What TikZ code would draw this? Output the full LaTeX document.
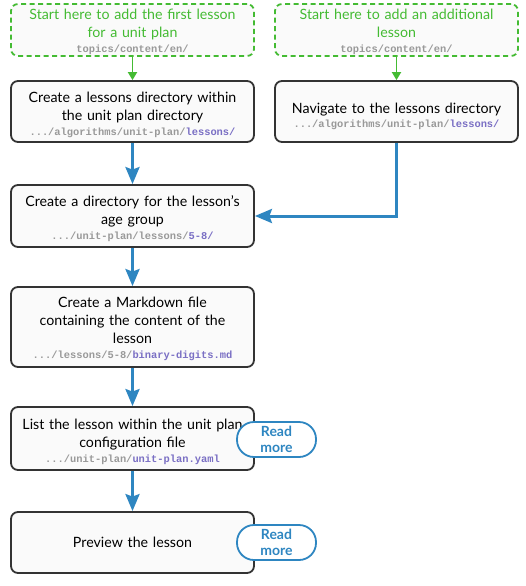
\documentclass[tikz,border=0pt]{standalone}
\usepackage{fontspec}
\setmainfont{Lato}
\setmonofont{Liberation Mono}
\usetikzlibrary{arrows.meta}
\definecolor{stepgreen}{HTML}{44BB33}
\definecolor{stepblue}{HTML}{2E86C1}
\definecolor{pathgray}{HTML}{999999}
\definecolor{pathpurple}{HTML}{7A6FC4}
\definecolor{boxfill}{HTML}{FAFAFA}
\definecolor{boxline}{HTML}{333333}
\newcommand{\pth}[1]{{\ttfamily\bfseries\fontsize{10.4}{12}\selectfont\color{pathgray}#1}}
\newcommand{\hl}[1]{{\color{pathpurple}#1}}
\tikzset{
  stepbox/.style={draw=boxline, line width=1.8pt, fill=boxfill, rounded corners=7pt,
    minimum width=243pt, text width=232pt, align=center, inner sep=0pt,
    font=\fontsize{14.2}{18}\selectfont},
  lower/.style={execute at begin node={\rule{0pt}{#1}}},
  startbox/.style={stepbox, lower=15pt, draw=stepgreen, dash pattern=on 5pt off 3.5pt, text=stepgreen, minimum height=52pt},
  flow/.style={draw=stepblue, line width=3pt, -{Stealth[length=17pt,width=14pt,inset=2.5pt]}},
  startflow/.style={draw=stepgreen, line width=1.8pt, -{Triangle[length=8pt,width=9pt]}},
  pill/.style={draw=stepblue, line width=1.8pt, fill=white, rounded corners=17pt,
    minimum width=79pt, minimum height=35pt, inner sep=0pt, align=center, text=stepblue,
    font=\bfseries\fontsize{14}{16.5}\selectfont}
}
\begin{document}
\begin{tikzpicture}[x=1pt,y=-1pt]
\useasboundingbox (0,0) rectangle (525,586);
\node[startbox] (g1) at (132.5,30) {Start here to add the first lesson\\for a unit plan\\[-3pt]\pth{topics/content/en/}};
\node[startbox] (g2) at (396.5,30) {Start here to add an additional\\lesson\\[-3pt]\pth{topics/content/en/}};
\node[stepbox, lower=16.5pt, minimum height=61pt] (b1) at (132.5,111.5) {Create a lessons directory within\\the unit plan directory\\[-3pt]\pth{.../algorithms/unit-plan/\hl{lessons/}}};
\node[stepbox, lower=20pt, minimum height=61pt] (nav) at (396.5,111.5) {Navigate to the lessons directory\\[-4pt]\pth{.../algorithms/unit-plan/\hl{lessons/}}};
\node[stepbox, lower=16.5pt, minimum height=62pt] (b2) at (132.5,216) {Create a directory for the lesson’s\\age group\\[-3pt]\pth{.../unit-plan/lessons/\hl{5-8/}}};
\node[stepbox, lower=15pt, minimum height=80pt] (b3) at (132.5,327) {Create a Markdown file\\containing the content of the\\lesson\\[-3pt]\pth{.../lessons/5-8/\hl{binary-digits.md}}};
\node[stepbox, lower=16.5pt, minimum height=63pt] (b4) at (132.5,438.5) {List the lesson within the unit plan\\configuration file\\[-3pt]\pth{.../unit-plan/\hl{unit-plan.yaml}}};
\node[stepbox, minimum height=61pt] (b5) at (132.5,542.5) {Preview the lesson};
\node[pill] (p1) at (276.5,439.5) {Read\\more};
\node[pill] (p2) at (276.5,542.5) {Read\\more};
\draw[startflow] (g1.south) -- (b1.north);
\draw[startflow] (g2.south) -- (nav.north);
\draw[flow] (b1.south) -- (b2.north);
\draw[flow] (nav.south) |- (b2.east);
\draw[flow] (b2.south) -- (b3.north);
\draw[flow] (b3.south) -- (b4.north);
\draw[flow] (b4.south) -- (b5.north);
\end{tikzpicture}
\end{document}
